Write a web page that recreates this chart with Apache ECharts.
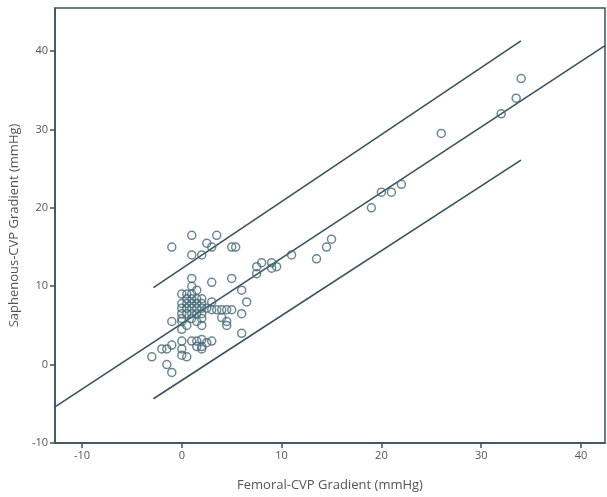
<!DOCTYPE html>
<html><head><meta charset="utf-8">
<script src="https://cdn.jsdelivr.net/npm/echarts@6/dist/echarts.min.js"></script>
<style>html,body{margin:0;padding:0;background:#fff}#c{width:607px;height:497px}</style>
</head><body><div id="c"></div>
<script>
var xTicks = [-10, 0, 10, 20, 30, 40];
var yTicks = [-10, 0, 10, 20, 30, 40];
var points = [
  [-1,15],[1,16.5],[3.5,16.5],[2.5,15.5],[3,15],[5,15],[5.4,15],[1,14],[2,14],
  [1,11],[3,10.5],[5,11],[1,10],[1.5,9.5],[6,9.5],[6.5,8],[3,8],
  [0,9],[0.5,9],[1,9],
  [0.5,8.4],[1,8.4],[1.5,8.4],[2,8.4],
  [0,7.8],[0.5,7.8],[1,7.8],[1.5,7.8],[2,7.8],
  [0,7.2],[0.5,7.2],[1,7.2],[1.5,7.2],[2,7.2],[2.5,7.2],[3,7],[3.5,7],[4,7],[4.5,7],[5,7],
  [0,6.5],[0.5,6.5],[1,6.5],[1.5,6.5],[2,6.5],
  [0,5.9],[1,5.9],[2,5.9],
  [0.5,5],[2,5],[-1,5.5],[0,5.5],[1.5,5.5],
  [4,6],[4.5,5.5],[4.5,5],[6,6.5],[6,4],[0,4.5],
  [1,3],[1.5,3],[2,3.2],[2.5,2.8],[3,3],[1.5,2.3],[2,2.3],[2,2],[0,3],[0,2],[0,1.2],[0.5,1],
  [-1,2.5],[-1.5,2],[-2,2],[-3,1],[-1.5,0],[-1,-1],
  [7.5,12.5],[8,13],[9,13],[9.5,12.5],[9,12.3],[7.5,11.6],[11,14],[13.5,13.5],[14.5,15],[15,16],
  [19,20],[20,22],[21,22],[22,23],[26,29.5],[32,32],[33.5,34],[34,36.5]
];
var fitLine = [[-12.7,-5.4],[42.4,40.7]];
var upperLine = [[-2.84,9.82],[33.98,41.3]];
var lowerLine = [[-2.84,-4.35],[33.98,26.1]];

var ink = '#37535e';
var chart = echarts.init(document.getElementById('c'), null, {renderer:'canvas'});
function lineSeries(d){
  return {type:'line', data:d, symbol:'none', silent:true, z:3,
    lineStyle:{color:ink, width:1.6}, animation:false};
}
chart.setOption({
  animation:false,
  grid:{left:52, top:8, right:2, bottom:52, show:true, borderColor:ink, borderWidth:1.5, backgroundColor:'transparent'},
  xAxis:{type:'value', min:-12.7, max:42.4,
    name:'Femoral-CVP Gradient (mmHg)', nameLocation:'middle', nameGap:36,
    nameTextStyle:{color:'#555', fontSize:13, fontFamily:'Open Sans'},
    axisLine:{show:true, onZero:false, lineStyle:{color:ink, width:1.5}},
    axisTick:{show:true, length:5, customValues:xTicks, lineStyle:{color:ink, width:1.5}},
    axisLabel:{customValues:xTicks, color:'#555', fontSize:11, margin:7, fontFamily:'Open Sans'},
    splitLine:{show:false}},
  yAxis:{type:'value', min:-10, max:45.5,
    name:'Saphenous-CVP Gradient (mmHg)', nameLocation:'middle', nameGap:32,
    nameTextStyle:{color:'#555', fontSize:13, fontFamily:'Open Sans'},
    axisLine:{show:true, onZero:false, lineStyle:{color:ink, width:1.5}},
    axisTick:{show:true, length:5, customValues:yTicks, lineStyle:{color:ink, width:1.5}},
    axisLabel:{customValues:yTicks, color:'#555', fontSize:11, margin:7, fontFamily:'Open Sans'},
    splitLine:{show:false}},
  series:[
    lineSeries(fitLine), lineSeries(upperLine), lineSeries(lowerLine),
    {type:'scatter', data:points, symbol:'circle', symbolSize:8, z:4,
     itemStyle:{color:'rgba(255,255,255,0)', borderColor:'#456a77', borderWidth:1.5}}
  ]
});
</script></body></html>
